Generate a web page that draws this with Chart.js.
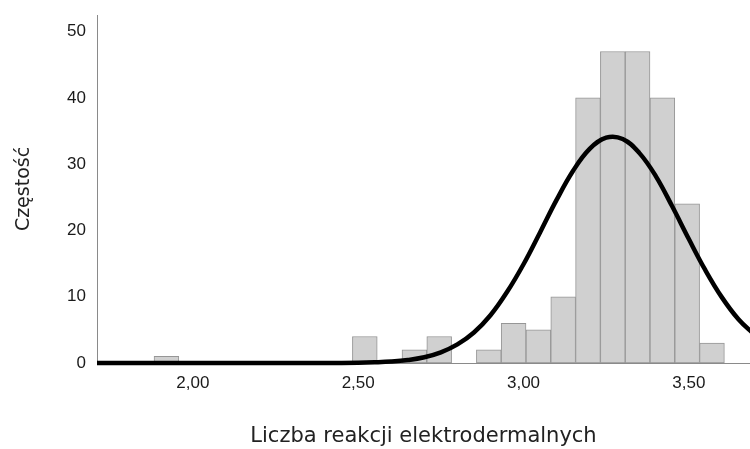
<!DOCTYPE html>
<html>
<head>
<meta charset="utf-8">
<script src="https://cdn.jsdelivr.net/npm/chart.js@4"></script>
<style>
  html, body { margin: 0; padding: 0; background: #fff; }
  #wrap { width: 750px; height: 449px; }
</style>
</head>
<body>
<div id="wrap"><canvas id="myChart"></canvas></div>
<script>
// histogram: bin starts and counts (bin width 0,075)
var binWidth = 0.075;
var binStart = 1.8825;
var counts = [1, 0, 0, 0, 0, 0, 0, 0, 4, 0, 2, 4, 0, 2, 6, 5, 10, 40, 47, 47, 40, 24, 3];

// normal curve
var curveX = [1.71, 2.40, 2.50, 2.55, 2.60, 2.65, 2.70, 2.75, 2.80, 2.85, 2.90, 2.95, 3.00, 3.05, 3.10, 3.15, 3.20, 3.25, 3.30, 3.35, 3.40, 3.45, 3.50, 3.55, 3.60, 3.65, 3.70];
var curveY = [0, 0.01, 0.04, 0.10, 0.21, 0.44, 0.86, 1.6, 2.8, 4.6, 7.2, 10.7, 14.9, 19.7, 24.6, 29.0, 32.3, 34.0, 33.8, 31.7, 28.2, 23.6, 18.7, 14.0, 9.9, 6.6, 4.2];

var xTicks = [2.0, 2.5, 3.0, 3.5];
var yTicks = [0, 10, 20, 30, 40, 50];

var barData = [];
counts.forEach(function (c, i) {
    if (c > 0) barData.push({ x: binStart + binWidth * (i + 0.5), y: c });
});
var lineData = curveX.map(function (x, i) { return { x: x, y: curveY[i] }; });

var chart = document.querySelector('#myChart');
var myChart = new Chart(chart, {
    type: 'bar',
    data: {
        datasets: [{
            type: 'line',
            data: lineData,
            borderColor: '#000',
            borderWidth: 4.5,
            pointRadius: 0,
            tension: 0.4,
            clip: { left: 0, top: 0, right: 0, bottom: 5 },
            order: 0
        }, {
            data: barData,
            backgroundColor: '#d0d0d0',
            borderColor: '#969696',
            borderWidth: 1,
            borderSkipped: false,
            barPercentage: 1,
            categoryPercentage: 1,
            grouped: false,
            order: 1
        }]
    },
    options: {
        responsive: true,
        maintainAspectRatio: false,
        animation: false,
        layout: { padding: { top: 15, right: 0, left: 0, bottom: 0 } },
        plugins: {
            legend: { display: false },
            tooltip: { enabled: false }
        },
        scales: {
            x: {
                type: 'linear',
                offset: false,
                min: 1.71,
                max: 3.685,
                afterBuildTicks: function (s) { s.ticks = xTicks.map(function (v) { return { value: v }; }); },
                afterFit: function (s) { s.height = 86; s.paddingLeft = 0; s.paddingRight = 0; },
                grid: { display: false, drawTicks: false },
                border: { color: '#8a8a8a', width: 1 },
                ticks: {
                    padding: 10,
                    color: '#1a1a1a',
                    font: { family: 'Liberation Sans', size: 17 },
                    callback: function (v) { return v.toFixed(2).replace('.', ','); }
                },
                title: {
                    display: true,
                    text: 'Liczba reakcji elektrodermalnych',
                    color: '#222',
                    font: { family: 'DejaVu Sans', size: 21 },
                    padding: { top: 0, bottom: 0 }
                }
            },
            y: {
                min: 0,
                max: 52.5,
                afterBuildTicks: function (s) { s.ticks = yTicks.map(function (v) { return { value: v }; }); },
                afterFit: function (s) { s.width = 97; s.paddingTop = 0; s.paddingBottom = 0; },
                grid: { display: false, drawTicks: false },
                border: { color: '#8a8a8a', width: 1 },
                ticks: {
                    padding: 11,
                    color: '#1a1a1a',
                    font: { family: 'Liberation Sans', size: 17 }
                },
                title: {
                    display: true,
                    text: 'Częstość',
                    color: '#222',
                    font: { family: 'DejaVu Sans', size: 19 },
                    padding: { top: 13, bottom: 0 }
                }
            }
        }
    }
});
</script>
</body>
</html>
